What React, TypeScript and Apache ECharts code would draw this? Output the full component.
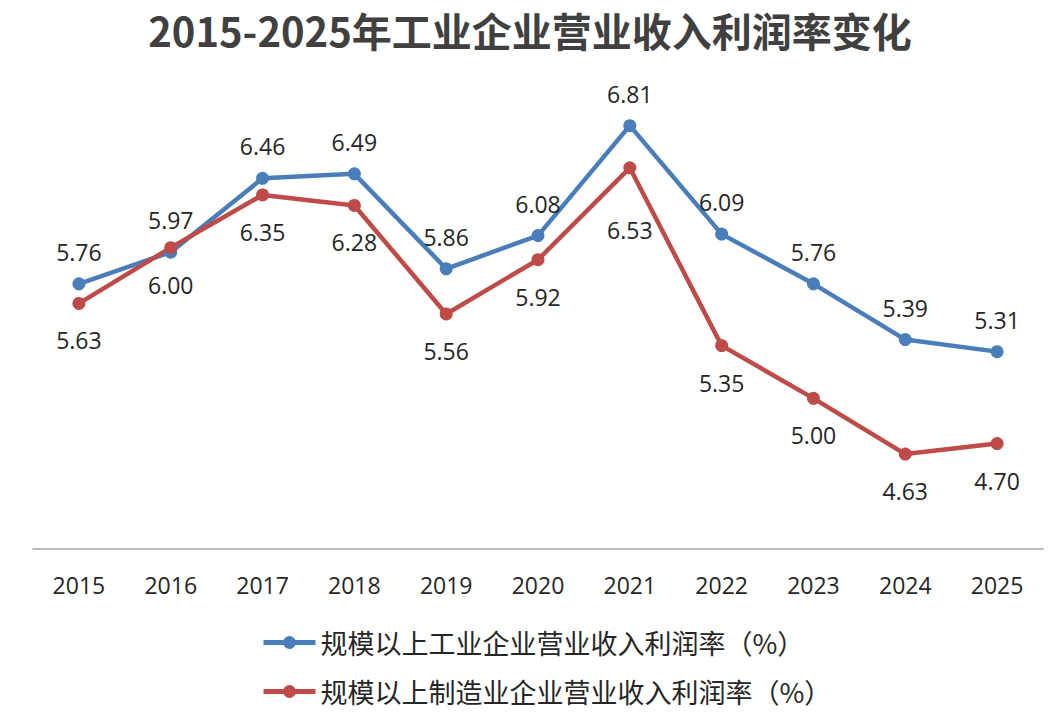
import React, { useEffect, useRef } from "react";
import * as echarts from "echarts";

const years = ["2015", "2016", "2017", "2018", "2019", "2020", "2021", "2022", "2023", "2024", "2025"];
const industryRate = [5.76, 5.97, 6.46, 6.49, 5.86, 6.08, 6.81, 6.09, 5.76, 5.39, 5.31];
const manufacturingRate = [5.63, 6.0, 6.35, 6.28, 5.56, 5.92, 6.53, 5.35, 5.0, 4.63, 4.7];
const industryName = "规模以上工业企业营业收入利润率（%）";
const manufacturingName = "规模以上制造业企业营业收入利润率（%）";

const BLUE = "#4a7ebb";
const RED = "#be4b48";
const TEXT = "#262626";
const NUM_FONT = "'Open Sans', 'Noto Sans', sans-serif";
const CJK_FONT = "'Noto Sans CJK SC', sans-serif";

export default function App() {
  const ref = useRef<HTMLDivElement>(null);

  useEffect(() => {
    if (!ref.current) return;
    const chart = echarts.init(ref.current, null, { renderer: "svg" });

    const labelStyle = {
      show: true,
      fontSize: 23,
      fontFamily: NUM_FONT,
      color: TEXT,
      formatter: (p: any) => Number(p.value).toFixed(2),
    };

    const legendCommon = {
      left: 256,
      itemWidth: 52,
      itemHeight: 16,
      lineStyle: { width: 5 },
      textStyle: { fontSize: 27, fontFamily: CJK_FONT, color: TEXT },
    };

    chart.setOption({
      animation: false,
      backgroundColor: "#ffffff",
      title: {
        text: "2015-2025年工业企业营业收入利润率变化",
        left: "center",
        top: 5,
        textStyle: {
          fontSize: 40,
          fontWeight: "bold",
          fontFamily: CJK_FONT,
          color: "#404040",
        },
      },
      legend: [
        { ...legendCommon, data: [industryName], top: 624 },
        { ...legendCommon, data: [manufacturingName], top: 673 },
      ],
      grid: { left: 33, right: 17, top: 97, bottom: 163 },
      xAxis: {
        type: "category",
        data: years,
        boundaryGap: true,
        axisLine: { lineStyle: { color: "#a6a6a6", width: 1.5 } },
        axisTick: { show: false },
        axisLabel: {
          fontSize: 23,
          fontFamily: NUM_FONT,
          color: TEXT,
          margin: 24,
        },
      },
      yAxis: {
        type: "value",
        min: 4,
        max: 7,
        show: false,
        splitLine: { show: false },
      },
      series: [
        {
          name: industryName,
          type: "line",
          data: industryRate,
          symbol: "circle",
          symbolSize: 13,
          lineStyle: { color: BLUE, width: 4.5 },
          itemStyle: { color: BLUE },
          label: { ...labelStyle, position: "top", distance: 14 },
        },
        {
          name: manufacturingName,
          type: "line",
          data: manufacturingRate.map((v, i) =>
            i === 6 ? { value: v, label: { distance: 44 } } : v
          ),
          symbol: "circle",
          symbolSize: 13,
          lineStyle: { color: RED, width: 4.5 },
          itemStyle: { color: RED },
          label: { ...labelStyle, position: "bottom", distance: 19 },
        },
      ],
    });

    return () => chart.dispose();
  }, []);

  return (
    <div
      ref={ref}
      style={{ position: "fixed", left: 0, top: 0, width: 1060, height: 712 }}
    />
  );
}
